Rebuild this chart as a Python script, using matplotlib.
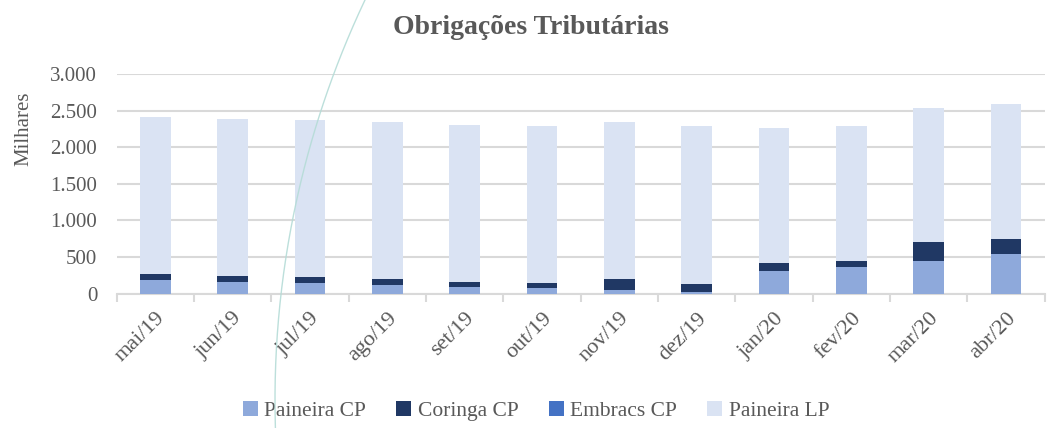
import numpy as np
import matplotlib
matplotlib.use("Agg")
import matplotlib.pyplot as plt
from matplotlib.lines import Line2D
from matplotlib.patches import Patch

# Data (milhares)
meses = ["mai/19", "jun/19", "jul/19", "ago/19", "set/19", "out/19",
         "nov/19", "dez/19", "jan/20", "fev/20", "mar/20", "abr/20"]
paineira_cp = [185, 162, 139, 116, 93, 74, 46, 23, 315, 370, 444, 546]
coringa_cp = [88, 79, 83, 78, 64, 74, 153, 111, 102, 70, 260, 204]
embracs_cp = [0, 0, 0, 0, 0, 0, 0, 0, 0, 0, 0, 0]
paineira_lp = [2140, 2150, 2150, 2150, 2143, 2147, 2146, 2156, 1843, 1850, 1836, 1835]

series = ["Paineira CP", "Coringa CP", "Embracs CP", "Paineira LP"]
colors = ["#8EA9DB", "#203864", "#4472C4", "#DAE3F3"]

plt.rcParams['font.family'] = ['Liberation Serif', 'DejaVu Serif']
txt = "#595959"
grid = "#D9D9D9"

fig = plt.figure(figsize=(10.51, 4.28), dpi=100)
ax = fig.add_axes([0.111, 0.314, 0.883, 0.513])

x = np.arange(len(meses))
bottom = np.zeros(len(meses))
for vals, col, name in zip([paineira_cp, coringa_cp, embracs_cp, paineira_lp], colors, series):
    ax.bar(x, vals, width=0.4, bottom=bottom, color=col, label=name, zorder=3)
    bottom += np.array(vals)

ax.set_xlim(-0.5, len(meses) - 0.5)
ax.set_ylim(0, 3000)
ax.set_yticks(range(0, 3001, 500))
ax.set_yticklabels(["0", "500", "1.000", "1.500", "2.000", "2.500", "3.000"])
ax.yaxis.grid(True, color=grid, linewidth=1.5, zorder=0)
ax.tick_params(axis='y', length=0, pad=14, labelsize=15, labelcolor=txt)

# Excel-style: ticks between categories, labels at centres
ax.set_xticks(np.arange(-0.5, len(meses), 1.0))
ax.set_xticklabels([])
ax.tick_params(axis='x', which='major', length=6, width=1.5, color=grid)
ax.set_xticks(x, minor=True)
ax.set_xticklabels(meses, minor=True, rotation=45, ha='right', rotation_mode='anchor')
ax.tick_params(axis='x', which='minor', length=0, pad=11, labelsize=16, labelcolor=txt)

for s in ["top", "right", "left"]:
    ax.spines[s].set_visible(False)
ax.spines["bottom"].set_color(grid)
ax.spines["bottom"].set_linewidth(1.5)

ax.set_ylabel("Milhares", fontsize=15, color=txt)
ax.yaxis.set_label_coords(-0.09, 0.75)
fig.text(0.505, 0.935, "Obrigações Tributárias", ha='center', va='center',
         fontsize=20, fontweight='bold', color=txt)

handles = [Patch(facecolor=c, edgecolor='none') for c in colors]
fig.legend(handles, series, loc='center', bbox_to_anchor=(0.51, 0.04), ncol=4,
           frameon=False, prop={'family': 'Liberation Serif', 'size': 15.5},
           labelcolor=txt, handlelength=0.7, handleheight=0.7,
           handletextpad=0.3, columnspacing=1.4)

# decorative arc from the slide background
t = np.linspace(0, 428, 200)
r, cx, cy = 934.0, 275 + 934.0, 400.0
px = cx - np.sqrt(r ** 2 - (t - cy) ** 2)
fig.add_artist(Line2D(px / 1051, 1 - t / 428, transform=fig.transFigure,
                      color="#B5DCD7", linewidth=1.0, alpha=0.9, zorder=10))

fig.savefig("out.png", dpi=100)
